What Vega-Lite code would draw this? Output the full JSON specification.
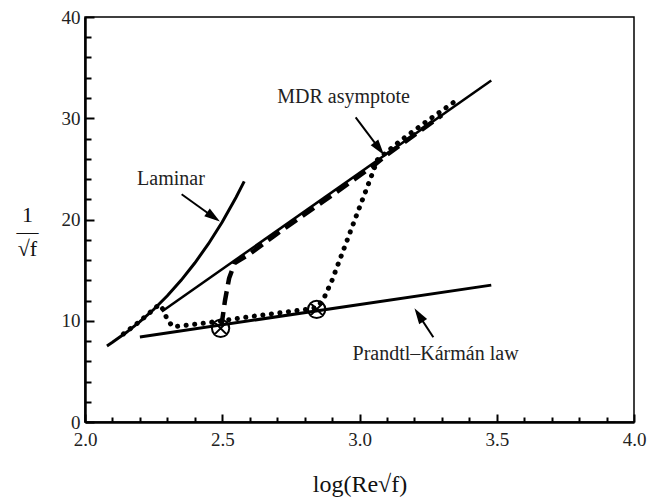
{
  "$schema": "https://vega.github.io/schema/vega-lite/v6.json",
  "width": 549,
  "height": 405,
  "autosize": {"type": "none"},
  "padding": {"left": 85, "top": 17, "right": 16, "bottom": 76},
  "background": "white",
  "config": {
    "view": {"stroke": "black", "strokeWidth": 1.5},
    "font": "Liberation Serif",
    "axis": {
      "domainColor": "black",
      "domainWidth": 2.5,
      "tickColor": "black",
      "tickWidth": 2,
      "grid": false,
      "labelFont": "Liberation Serif",
      "labelFontSize": 19,
      "labelColor": "#222",
      "titleFont": "Liberation Serif",
      "titleFontWeight": "normal",
      "titleColor": "#111"
    }
  },
  "datasets": {
    "curves": [
      {"series": "Laminar", "x": 2.08, "y": 7.51},
      {"series": "Laminar", "x": 2.1, "y": 7.87},
      {"series": "Laminar", "x": 2.15, "y": 8.83},
      {"series": "Laminar", "x": 2.2, "y": 9.91},
      {"series": "Laminar", "x": 2.25, "y": 11.11},
      {"series": "Laminar", "x": 2.3, "y": 12.47},
      {"series": "Laminar", "x": 2.35, "y": 13.99},
      {"series": "Laminar", "x": 2.4, "y": 15.7},
      {"series": "Laminar", "x": 2.45, "y": 17.61},
      {"series": "Laminar", "x": 2.5, "y": 19.76},
      {"series": "Laminar", "x": 2.55, "y": 22.18},
      {"series": "Laminar", "x": 2.58, "y": 23.76},
      {"series": "MDR", "x": 2.28, "y": 10.92},
      {"series": "MDR", "x": 3.48, "y": 33.72},
      {"series": "PK", "x": 2.2, "y": 8.4},
      {"series": "PK", "x": 3.48, "y": 13.52},
      {"series": "Dashed", "x": 2.497, "y": 9.5},
      {"series": "Dashed", "x": 2.51, "y": 12.0},
      {"series": "Dashed", "x": 2.525, "y": 14.2},
      {"series": "Dashed", "x": 2.545, "y": 15.7},
      {"series": "Dashed", "x": 2.6, "y": 16.6},
      {"series": "Dashed", "x": 2.7, "y": 18.6},
      {"series": "Dashed", "x": 2.9, "y": 22.4},
      {"series": "Dashed", "x": 3.05, "y": 25.3},
      {"series": "Dashed", "x": 3.1, "y": 26.4},
      {"series": "Dashed", "x": 3.3, "y": 30.3},
      {"series": "Dotted", "x": 2.14, "y": 8.7},
      {"series": "Dotted", "x": 2.2, "y": 9.95},
      {"series": "Dotted", "x": 2.27, "y": 11.6},
      {"series": "Dotted", "x": 2.285, "y": 11.1},
      {"series": "Dotted", "x": 2.3, "y": 10.1},
      {"series": "Dotted", "x": 2.32, "y": 9.4},
      {"series": "Dotted", "x": 2.4, "y": 9.65},
      {"series": "Dotted", "x": 2.5, "y": 10.0},
      {"series": "Dotted", "x": 2.6, "y": 10.4},
      {"series": "Dotted", "x": 2.7, "y": 10.75},
      {"series": "Dotted", "x": 2.8, "y": 11.1},
      {"series": "Dotted", "x": 2.845, "y": 11.3},
      {"series": "Dotted", "x": 2.87, "y": 12.2},
      {"series": "Dotted", "x": 2.9, "y": 14.0},
      {"series": "Dotted", "x": 3.0, "y": 21.2},
      {"series": "Dotted", "x": 3.045, "y": 24.4},
      {"series": "Dotted", "x": 3.065, "y": 25.9},
      {"series": "Dotted", "x": 3.15, "y": 27.8},
      {"series": "Dotted", "x": 3.25, "y": 29.8},
      {"series": "Dotted", "x": 3.36, "y": 31.9}
    ],
    "markers": [
      {"x": 2.494, "y": 9.25},
      {"x": 2.844, "y": 11.13}
    ],
    "labels": [
      {"text": "Laminar", "x": 2.313, "y": 24.0},
      {"text": "MDR asymptote", "x": 2.942, "y": 32.1},
      {"text": "Prandtl–Kármán law", "x": 3.277, "y": 6.72}
    ],
    "arrows": [
      {"name": "Laminar", "x": 2.352, "y": 22.5, "x2": 2.48, "y2": 20.0, "hx": 2.468, "hy": 20.25},
      {"name": "MDR", "x": 2.986, "y": 30.09, "x2": 3.08, "y2": 26.7, "hx": 3.072, "hy": 27.0},
      {"name": "PK", "x": 3.269, "y": 8.37, "x2": 3.21, "y2": 10.8, "hx": 3.216, "hy": 10.57}
    ]
  },
  "layer": [
    {
      "data": {"name": "curves"},
      "transform": [{"filter": "datum.series === 'Laminar'"}],
      "mark": {"type": "line", "color": "black", "strokeWidth": 3},
      "encoding": {
        "x": {
          "field": "x", "type": "quantitative",
          "scale": {"domain": [2, 4], "nice": false, "zero": false},
          "axis": {
            "title": "log(Re√f)",
            "titleFontSize": 24,
            "titlePadding": 20,
            "values": [2.0, 2.1, 2.2, 2.3, 2.4, 2.5, 2.6, 2.7, 2.8, 2.9, 3.0, 3.1, 3.2, 3.3, 3.4, 3.5, 3.6, 3.7, 3.8, 3.9, 4.0],
            "tickCount": 30,
            "labelExpr": "abs(datum.value * 2 - round(datum.value * 2)) < 0.001 ? format(datum.value, '.1f') : ''",
            "tickSize": {"condition": {"test": "abs(datum.value * 2 - round(datum.value * 2)) < 0.001", "value": -8}, "value": -5},
            "labelPadding": 16,
            "labelFlush": false,
            "labelOverlap": false
          }
        },
        "y": {
          "field": "y", "type": "quantitative",
          "scale": {"domain": [0, 40], "nice": false, "zero": false},
          "axis": {
            "title": ["1", "—", "√f"],
            "titleAngle": 0,
            "titleFontSize": 22,
            "titleLineHeight": 17,
            "titleAlign": "center",
            "titleBaseline": "middle",
            "titleX": -58,
            "titleY": 197,
            "values": [0, 2, 4, 6, 8, 10, 12, 14, 16, 18, 20, 22, 24, 26, 28, 30, 32, 34, 36, 38, 40],
            "tickCount": 30,
            "labelExpr": "datum.value % 10 === 0 ? format(datum.value, 'd') : ''",
            "tickSize": {"condition": {"test": "datum.value % 10 === 0", "value": -9}, "value": -6},
            "labelPadding": 14,
            "labelFlush": false,
            "labelOverlap": false
          }
        }
      }
    },
    {
      "data": {"name": "curves"},
      "transform": [{"filter": "datum.series === 'MDR'"}],
      "mark": {"type": "line", "color": "black", "strokeWidth": 2.5},
      "encoding": {"x": {"field": "x", "type": "quantitative"}, "y": {"field": "y", "type": "quantitative"}}
    },
    {
      "data": {"name": "curves"},
      "transform": [{"filter": "datum.series === 'PK'"}],
      "mark": {"type": "line", "color": "black", "strokeWidth": 3},
      "encoding": {"x": {"field": "x", "type": "quantitative"}, "y": {"field": "y", "type": "quantitative"}}
    },
    {
      "data": {"name": "curves"},
      "transform": [{"filter": "datum.series === 'Dashed'"}],
      "mark": {"type": "line", "color": "black", "strokeWidth": 4.5, "strokeDash": [14, 7]},
      "encoding": {"x": {"field": "x", "type": "quantitative"}, "y": {"field": "y", "type": "quantitative"}}
    },
    {
      "data": {"name": "curves"},
      "transform": [{"filter": "datum.series === 'Dotted'"}],
      "mark": {"type": "line", "color": "black", "strokeWidth": 5, "strokeDash": [0.1, 8.5], "strokeCap": "round"},
      "encoding": {"x": {"field": "x", "type": "quantitative"}, "y": {"field": "y", "type": "quantitative"}}
    },
    {
      "data": {"name": "markers"},
      "mark": {"type": "point", "shape": "M 1 0 A 1 1 0 1 1 -1 0 A 1 1 0 1 1 1 0 Z M -0.7 -0.7 L 0.7 0.7 M -0.7 0.7 L 0.7 -0.7", "size": 300, "filled": false, "color": "black", "strokeWidth": 2, "opacity": 1},
      "encoding": {"x": {"field": "x", "type": "quantitative"}, "y": {"field": "y", "type": "quantitative"}}
    },
    {
      "data": {"name": "arrows"},
      "mark": {"type": "rule", "color": "black", "strokeWidth": 2},
      "encoding": {
        "x": {"field": "x", "type": "quantitative"},
        "y": {"field": "y", "type": "quantitative"},
        "x2": {"field": "x2"},
        "y2": {"field": "y2"}
      }
    },
    {
      "data": {"name": "arrows"},
      "transform": [{"filter": "datum.name === 'Laminar'"}],
      "mark": {"type": "point", "shape": "M 1 0 L -1 -0.6 L -1 0.6 Z", "size": 250, "filled": true, "color": "black", "opacity": 1, "angle": 35.6},
      "encoding": {"x": {"field": "hx", "type": "quantitative"}, "y": {"field": "hy", "type": "quantitative"}}
    },
    {
      "data": {"name": "arrows"},
      "transform": [{"filter": "datum.name === 'MDR'"}],
      "mark": {"type": "point", "shape": "M 1 0 L -1 -0.6 L -1 0.6 Z", "size": 250, "filled": true, "color": "black", "opacity": 1, "angle": 52.8},
      "encoding": {"x": {"field": "hx", "type": "quantitative"}, "y": {"field": "hy", "type": "quantitative"}}
    },
    {
      "data": {"name": "arrows"},
      "transform": [{"filter": "datum.name === 'PK'"}],
      "mark": {"type": "point", "shape": "M 1 0 L -1 -0.6 L -1 0.6 Z", "size": 250, "filled": true, "color": "black", "opacity": 1, "angle": 236.8},
      "encoding": {"x": {"field": "hx", "type": "quantitative"}, "y": {"field": "hy", "type": "quantitative"}}
    },
    {
      "data": {"name": "labels"},
      "mark": {"type": "text", "font": "Liberation Serif", "fontSize": 20, "color": "#222", "align": "center", "baseline": "middle"},
      "encoding": {
        "x": {"field": "x", "type": "quantitative"},
        "y": {"field": "y", "type": "quantitative"},
        "text": {"field": "text"}
      }
    }
  ]
}
